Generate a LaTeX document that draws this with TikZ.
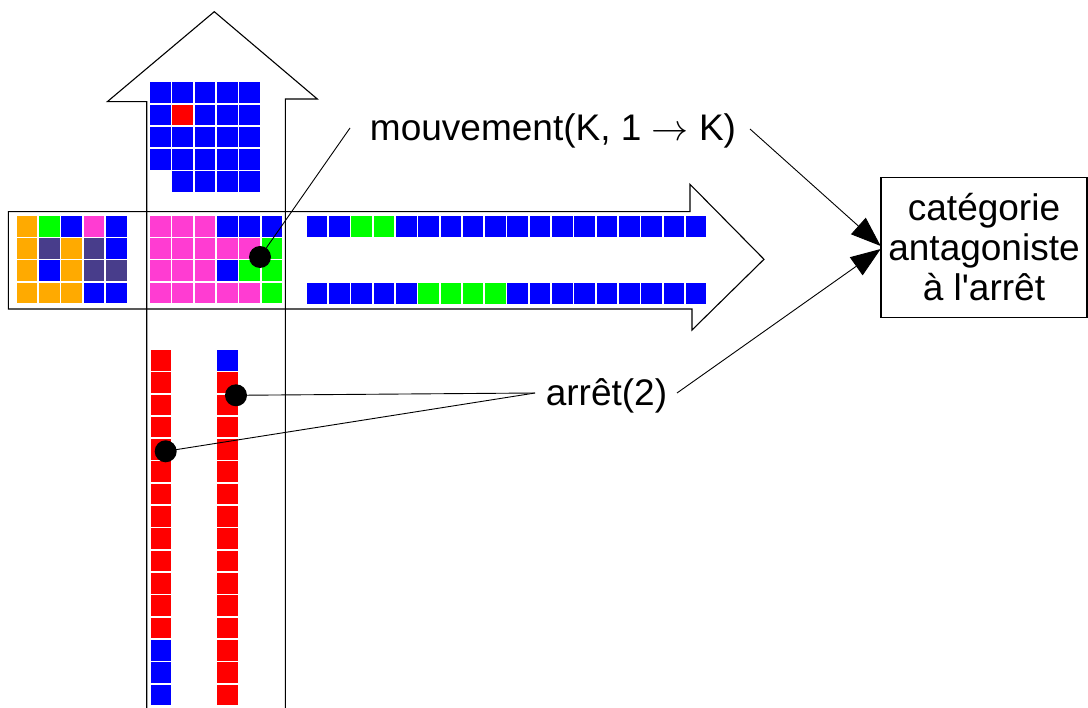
\RequirePackage{fix-cm}
\documentclass[tikz,border=0pt]{standalone}
\usepackage{fontspec}
\setmainfont{Liberation Sans}[Ligatures=TeXOff]
\usetikzlibrary{arrows.meta}
\definecolor{cB}{RGB}{0,0,255}
\definecolor{cG}{RGB}{0,255,0}
\definecolor{cR}{RGB}{255,0,0}
\definecolor{cO}{RGB}{255,170,0}
\definecolor{cP}{RGB}{255,60,210}
\definecolor{cS}{RGB}{72,61,139}
\newcommand\mycellrow[3]{\foreach \c [count=\i from 0] in {#3} {\fill[fill=c\c] ({#1+\i*22.3},{#2}) rectangle ++(20.6,20.6);}}
\newcommand\mycellcol[3]{\foreach \c [count=\i from 0] in {#3} {\fill[fill=c\c] ({#1},{#2+\i*22.3}) rectangle ++(20.6,20.6);}}
\tikzset{
  outline/.style={draw=black, line width=1.1pt, line join=miter},
  ln/.style={draw=black, line width=0.9pt},
  tip/.style={-{Triangle[length=30pt,width=22pt]}},
  dot/.style={circle, fill=black, minimum size=22pt, inner sep=0pt},
  lbl/.style={font=\fontsize{37}{42}\selectfont, inner sep=0pt},
  catbox/.style={draw=black, line width=1.1pt, minimum width=206pt, minimum height=140pt, align=center, inner sep=0pt, font=\fontsize{37}{40}\selectfont}
}
\begin{document}
\begin{tikzpicture}[x=1pt,y=-1pt]
\useasboundingbox (0,0) rectangle (1088,708);
% arrows outlines
\draw[outline] (146.7,708) -- (146.7,101.7) -- (107.3,101.7) -- (214.3,11.7) -- (317.3,99) -- (285.3,99) -- (285.3,708);
\draw[outline] (8.3,211.7) -- (690,211.7) -- (690,184.3) -- (764,259.3) -- (692,330) -- (692,309) -- (8.3,309) -- cycle;
% top grid
\mycellrow{150}{82.3}{B,B,B,B,B}
\mycellrow{150}{104.6}{B,R,B,B,B}
\mycellrow{150}{126.9}{B,B,B,B,B}
\mycellrow{150}{149.2}{B,B,B,B,B}
\mycellrow{172.3}{171.5}{B,B,B,B}
% left grid
\mycellrow{16.7}{216}{O,G,B,P,B}
\mycellrow{16.7}{238.2}{O,S,O,S,B}
\mycellrow{16.7}{260.4}{O,B,O,S,S}
\mycellrow{16.7}{282.6}{O,O,O,B,B}
% middle grid
\mycellrow{150}{216}{P,P,P,B,B,B}
\mycellrow{150}{238.2}{P,P,P,P,P,G}
\mycellrow{150}{260.4}{P,P,P,B,G,G}
\mycellrow{150}{282.6}{P,P,P,P,P,G}
% strips
\mycellrow{306.7}{216}{B,B,G,G,B,B,B,B,B,B,B,B,B,B,B,B,B,B}
\mycellrow{306.7}{283.3}{B,B,B,B,B,G,G,G,G,B,B,B,B,B,B,B,B,B}
% vertical strips
\mycellcol{150.7}{350}{R,R,R,R,R,R,R,R,R,R,R,R,R,B,B,B}
\mycellcol{217.3}{350}{B,R,R,R,R,R,R,R,R,R,R,R,R,R,R,R}
% dots
\node[dot] (d1) at (260,257) {};
\node[dot] (d2) at (236,395.3) {};
\node[dot] (d3) at (165.7,451.3) {};
% labels
\node[lbl] (mv) at (553,131) {mouvement(K, 1 $\rightarrow$ K)};
\node[lbl] (ar) at (606.5,396) {arrêt(2)};
\node[catbox] (cat) at (984,247.3) {catégorie\\antagoniste\\à l'arrêt};
% connector ends
\coordinate (mvA) at (350,128);
\coordinate (mvB) at (750,129);
\coordinate (arA) at (535,393);
\coordinate (arB) at (677,393);
\coordinate (t1) at (880.7,246);
\coordinate (t2) at (880.7,249);
\draw[ln] (d1.center) -- (mvA);
\draw[ln] (arA) -- (d2.center);
\draw[ln] (arA) -- (d3.center);
\draw[ln,tip] (mvB) -- (t1);
\draw[ln,tip] (arB) -- (t2);
\end{tikzpicture}
\end{document}
